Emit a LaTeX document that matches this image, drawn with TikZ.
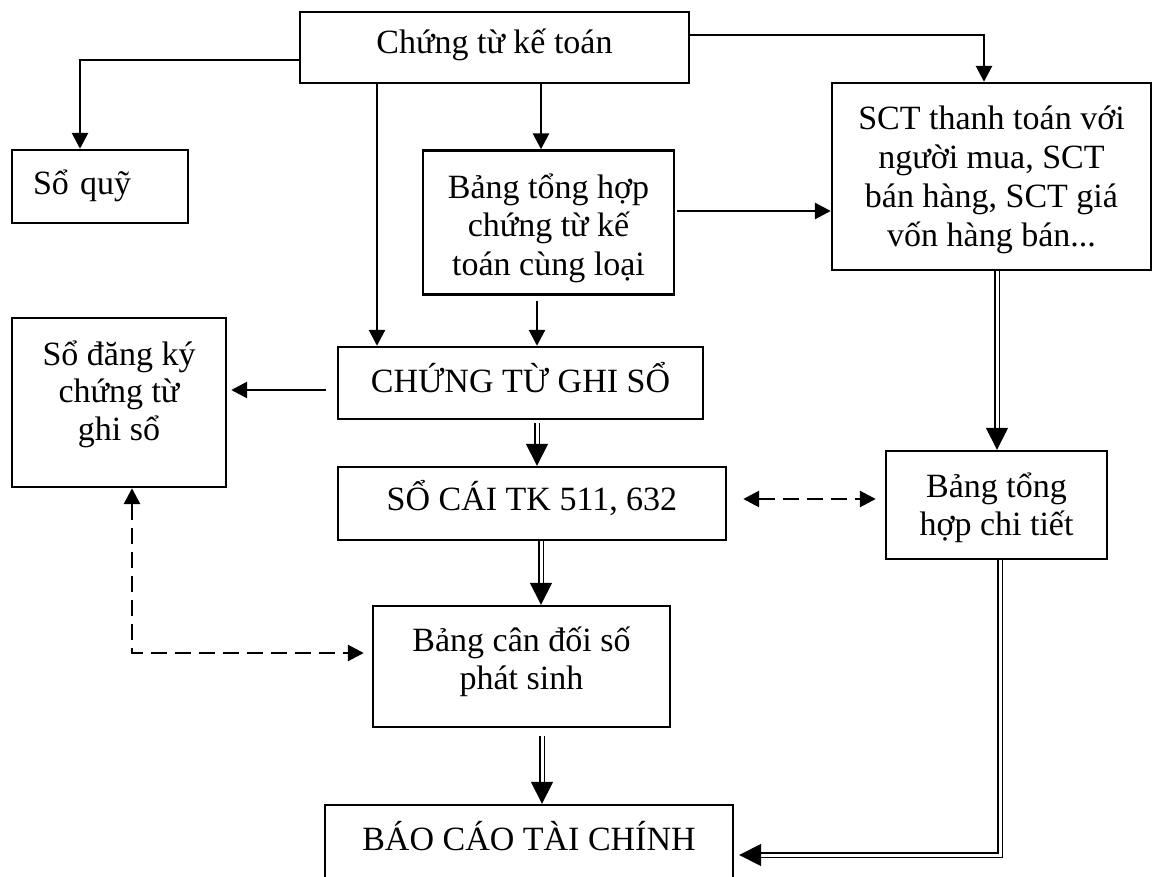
\documentclass[tikz,border=0pt]{standalone}
\usepackage{fontspec}
\setmainfont{Liberation Serif}
\usetikzlibrary{arrows.meta}
\begin{document}
\begin{tikzpicture}[x=1pt,y=-1pt,
  box/.style={draw, line width=2.4pt, inner sep=0pt, align=center, font=\fontsize{34}{38.5}\selectfont},
  txt/.style={inner sep=0pt, align=center, font=\fontsize{34}{38.5}\selectfont},
  arr/.style={line width=2.8pt, -{Triangle[length=16pt,width=16pt]}},
  dbl/.style={double, line width=1.6pt, double distance=3pt, -{Triangle[length=22pt,width=22pt]}},
  dsh/.style={line width=2.8pt, dash pattern=on 16pt off 8pt, {Triangle[length=16pt,width=16pt]}-{Triangle[length=16pt,width=16pt]}},
]
\useasboundingbox (0,0) rectangle (1152,877);

% boxes with one line of text
\node[box, minimum width=389pt, minimum height=71pt, text height=23pt, text depth=10pt] (ctkt) at (494.5,47.5) {Chứng từ kế toán};
\node[box, minimum width=176pt, minimum height=73pt, text width=134pt, inner xsep=21pt, align=left, text height=23pt, text depth=6pt] (soquy) at (100,186.5) {Sổ quỹ};
\node[box, minimum width=365pt, minimum height=72pt, text height=23pt, text depth=5pt] (ctgs) at (520.5,383) {CHỨNG TỪ GHI SỔ};
\node[box, minimum width=388pt, minimum height=73pt, text height=23pt, text depth=10pt] (socai) at (532,503.5) {SỔ CÁI TK 511, 632};

% boxes whose text is set separately
\node[box, minimum width=319pt, minimum height=187pt] (sct) at (991.5,176.5) {};
\node[txt, font=\fontsize{34}{39}\selectfont] (sctt) at (991.5,179.5) {SCT thanh toán với\\người mua, SCT\\bán hàng, SCT giá\\vốn hàng bán...};
\node[box, minimum width=251pt, minimum height=144pt] (bth) at (548.5,222.5) {};
\node[txt] (btht) at (548.5,228) {Bảng tổng hợp\\chứng từ kế\\toán cùng loại};
\node[box, minimum width=214pt, minimum height=169pt] (sdk) at (119,402.5) {};
\node[txt, font=\fontsize{34}{37.5}\selectfont] (sdkt) at (119,394) {Sổ đăng ký\\chứng từ\\ghi sổ};
\node[box, minimum width=221pt, minimum height=108pt] (btct) at (996.5,505) {};
\node[txt, font=\fontsize{34}{38}\selectfont] (btctt) at (996.5,508) {Bảng tổng\\hợp chi tiết};
\node[box, minimum width=297pt, minimum height=121pt] (bcd) at (521.5,666.5) {};
\node[txt, font=\fontsize{34}{38}\selectfont] (bcdt) at (521.5,661.5) {Bảng cân đối số\\phát sinh};
\node[box, minimum width=408pt, minimum height=100pt] (bctc) at (529,855) {};
\node[txt, anchor=base] (bctct) at (529,850) {BÁO CÁO TÀI CHÍNH};

% single arrows
\draw[arr] (ctkt.west |- 0,60) -| (80,0 |- soquy.north);
\draw[arr] (ctkt.east |- 0,35) -| (984,0 |- sct.north);
\draw[arr] (377,0 |- ctkt.south) -- (377,0 |- ctgs.north);
\draw[arr] (541,0 |- ctkt.south) -- (541,0 |- bth.north);
\draw[arr, shorten <=2pt] (bth.east |- 0,211) -- (sct.west |- 0,211);
\draw[arr, shorten <=5pt] (537,0 |- bth.south) -- (537,0 |- ctgs.north);
\draw[arr, shorten <=11pt, shorten >=4pt] (ctgs.west |- 0,390) -- (sdk.east |- 0,390);

% double arrows
\draw[dbl, shorten <=3pt] (537,0 |- ctgs.south) -- (537,0 |- socai.north);
\draw[dbl] (997,0 |- sct.south) -- (997,0 |- btct.north);
\draw[dbl] (541,0 |- socai.south) -- (541,0 |- bcd.north);
\draw[dbl, shorten <=8pt] (542,0 |- bcd.south) -- (542,0 |- bctc.north);
\draw[dbl, shorten >=5pt] (1000,0 |- btct.south) |- (bctc.east);

% dashed two-way arrows
\draw[dsh, shorten <=16pt, shorten >=9pt] (socai.east |- 0,499) -- (btct.west |- 0,499);
\draw[dsh, shorten >=8pt] (132,0 |- sdk.south) |- (bcd.west |- 0,653);
\end{tikzpicture}
\end{document}
